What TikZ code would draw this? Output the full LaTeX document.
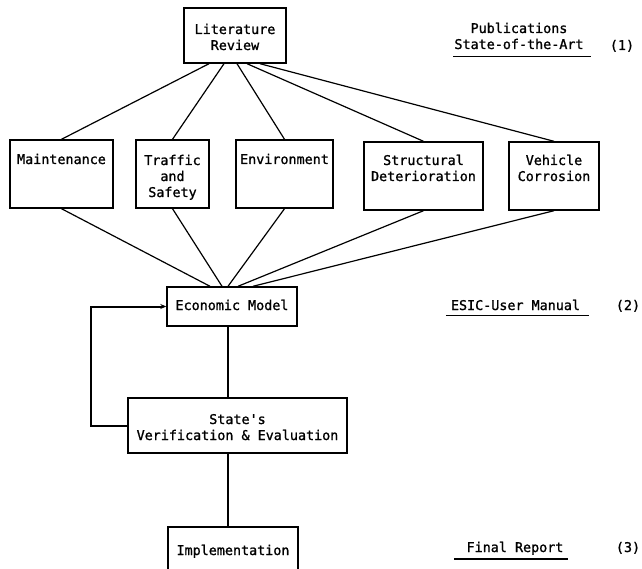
\documentclass[tikz,border=0pt]{standalone}
\usepackage{fontspec}
\setmonofont{DejaVu Sans Mono}[RawFeature={embolden=1.2}]
\usetikzlibrary{arrows.meta,calc}
\begin{document}
\begin{tikzpicture}[x=1pt,y=-1pt,
  box/.style={draw, line width=1.4pt, inner sep=0pt},
  txt/.style={font=\ttfamily\fontsize{13.4}{16}\selectfont, inner sep=0pt, anchor=base, align=center},
  conn/.style={line width=1.2pt},
  fback/.style={draw, line width=2pt, -{Stealth[length=6pt,width=5pt]}},
  uline/.style={line width=1.3pt}]
\useasboundingbox (0,0) rectangle (642,569);
\clip (0,0) rectangle (642,569);
% boxes
\node[box, minimum width=102pt, minimum height=55pt] (lit) at (235,35.5) {};
\node[box, minimum width=103pt, minimum height=68pt] (maint) at (61.5,174) {};
\node[box, minimum width=73pt, minimum height=68pt] (traf) at (172.5,174) {};
\node[box, minimum width=97pt, minimum height=68pt] (env) at (284.5,174) {};
\node[box, minimum width=119pt, minimum height=68pt] (struct) at (423.5,176) {};
\node[box, minimum width=90pt, minimum height=68pt] (veh) at (554,176) {};
\node[box, minimum width=130pt, minimum height=39pt] (eco) at (232,306.5) {};
\node[box, minimum width=219pt, minimum height=55pt] (state) at (237.5,425.5) {};
\node[box, minimum width=130pt, minimum height=48pt] (impl) at (233,551) {};
% box texts (anchor = baseline of last line)
\node[txt] (litT) at (235,50) {Literature\\Review};
\node[txt] (maintT) at (61.5,164) {Maintenance};
\node[txt] (trafT) at (172.5,197) {Traffic\\and\\Safety};
\node[txt] (envT) at (284.5,164) {Environment};
\node[txt] (structT) at (423.5,181) {Structural\\Deterioration};
\node[txt] (vehT) at (554,181) {Vehicle\\Corrosion};
\node[txt] (ecoT) at (232,310) {Economic Model};
\node[txt] (stateT) at (237.5,440) {State's\\Verification \& Evaluation};
\node[txt] (implT) at (233,555) {Implementation};
% right side texts
\node[txt] (pubT) at (519,49) {Publications\\State-of-the-Art};
\node[txt] (esicT) at (515.5,310) {ESIC-User Manual};
\node[txt] (finT) at (515,552) {Final Report};
\node[txt] (n1) at (622,50) {(1)};
\node[txt] (n2) at (628,310) {(2)};
\node[txt] (n3) at (628,552) {(3)};
\draw[uline] ($(pubT.south west)+(-1,7)$) -- ($(pubT.south east)+(7,7)$);
\draw[uline] ($(esicT.south west)+(-5,5)$) -- ($(esicT.south east)+(9,5)$);
\draw[uline] ($(finT.south west)+(-12,4)$) -- ($(finT.south east)+(4,4)$);
% connectors top
\draw[conn] ($(lit.south)+(-26,0)$) -- (maint.north);
\draw[conn] ($(lit.south)+(-11,0)$) -- (traf.north);
\draw[conn] ($(lit.south)+(2,0)$) -- (env.north);
\draw[conn] ($(lit.south)+(12,0)$) -- (struct.north);
\draw[conn] ($(lit.south)+(25,0)$) -- (veh.north);
% connectors to economic model
\draw[conn] (maint.south) -- ($(eco.north)+(-22,0)$);
\draw[conn] (traf.south) -- ($(eco.north)+(-10,0)$);
\draw[conn] (env.south) -- ($(eco.north)+(-4,0)$);
\draw[conn] (struct.south) -- ($(eco.north)+(6,0)$);
\draw[conn] (veh.south) -- ($(eco.north)+(21,0)$);
% spine
\coordinate (spine) at (228,0);
\draw[conn] (eco.south -| spine) -- (state.north -| spine);
\draw[conn] (state.south -| spine) -- (impl.north -| spine);
% feedback
\coordinate (fb) at (91,0);
\path[fback] (state.west) -- (state.west -| fb) -- (eco.west -| fb) -- (eco.west);
\end{tikzpicture}
\end{document}
